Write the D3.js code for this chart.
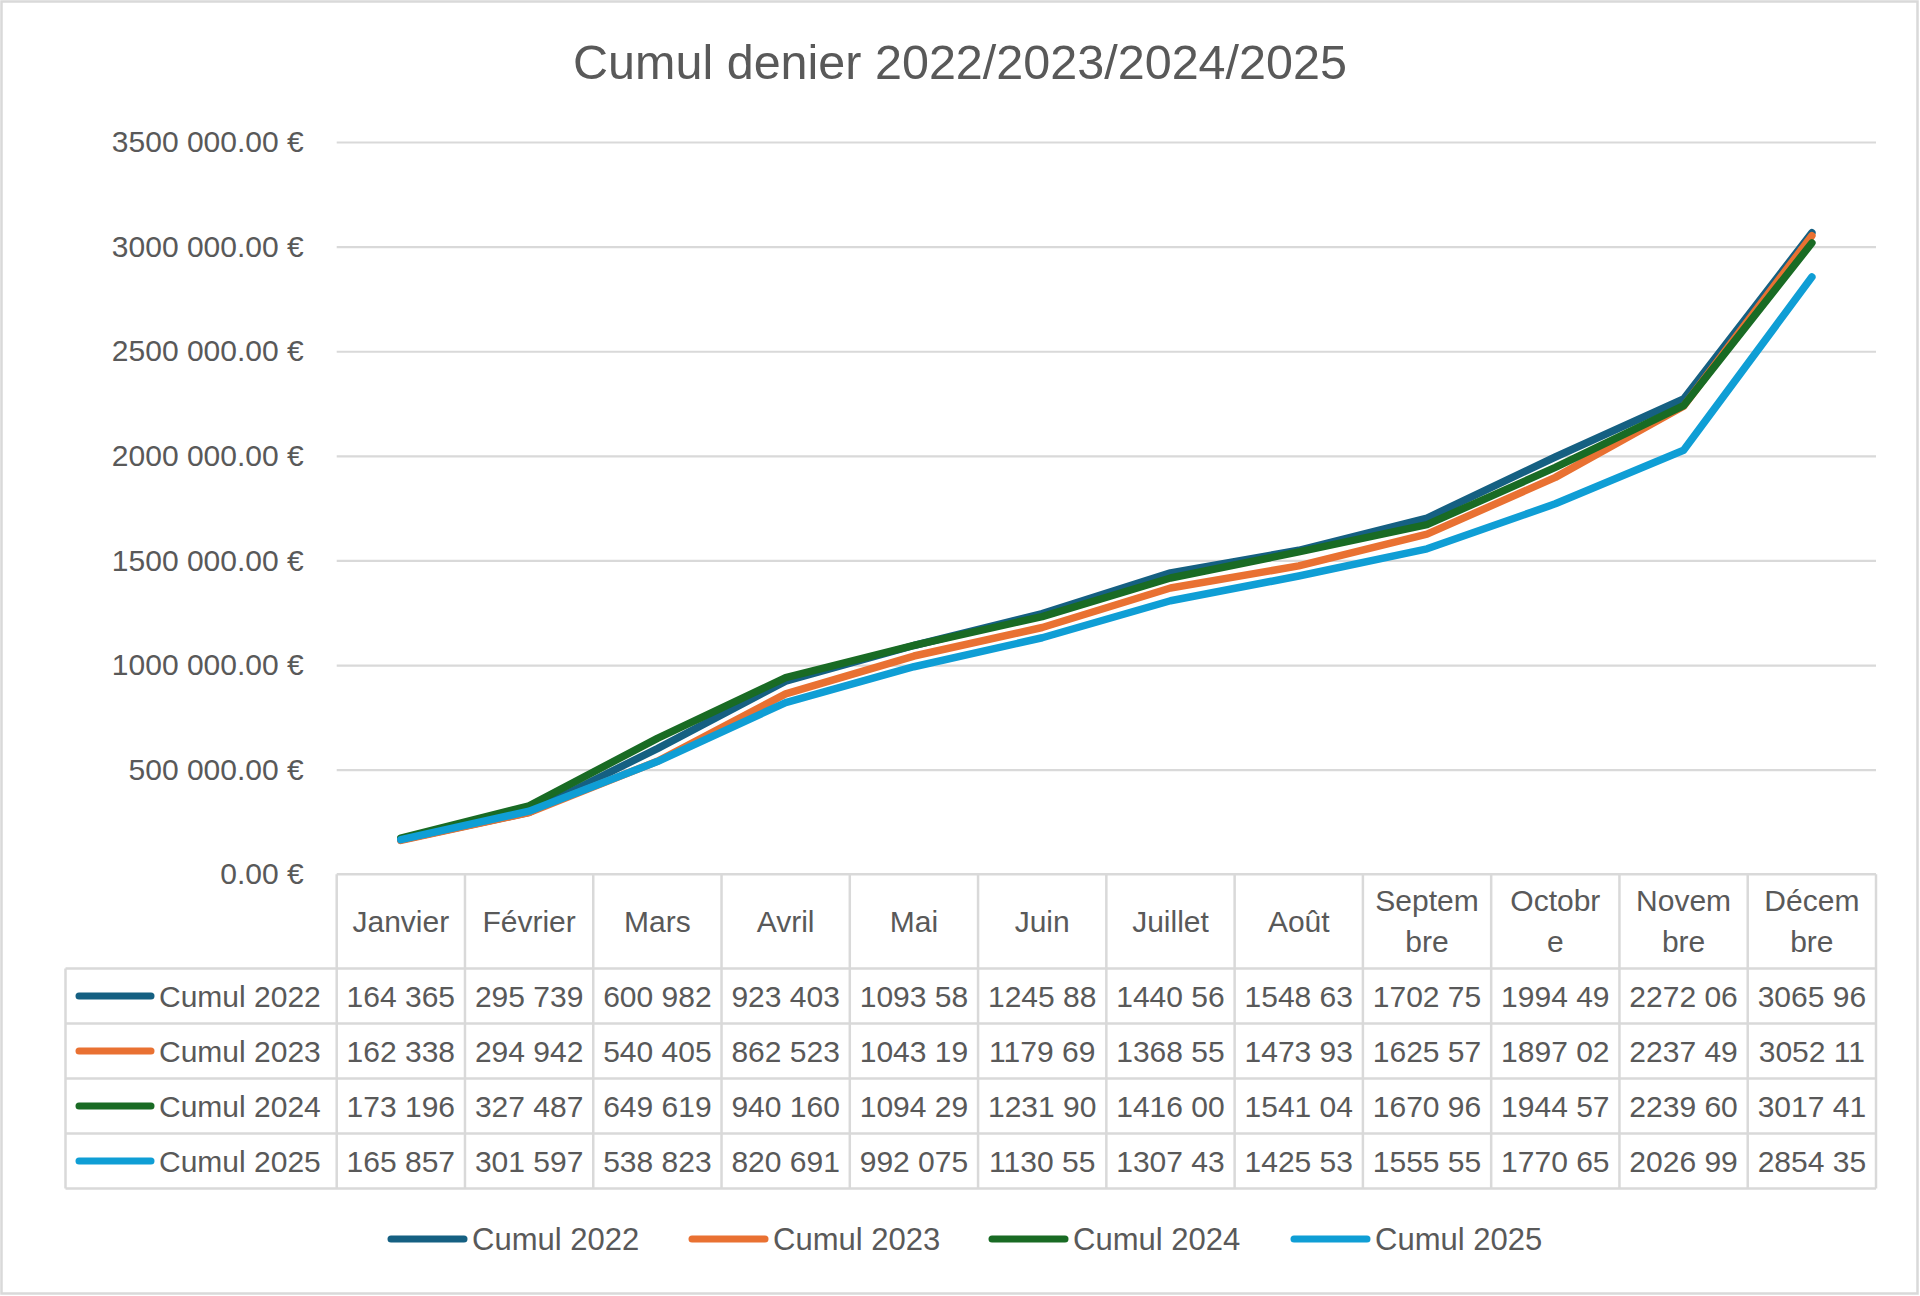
<!DOCTYPE html>
<html><head><meta charset="utf-8">
<script src="https://cdn.jsdelivr.net/npm/d3@7"></script>
<style>
html,body{margin:0;padding:0;background:#fff;}
svg text{font-family:"Liberation Sans",Arial,sans-serif;fill:#595959;}
</style></head>
<body>
<svg id="chart" width="1920" height="1296"></svg>
<script>
const title = "Cumul denier 2022/2023/2024/2025";
const months = ["Janvier","Février","Mars","Avril","Mai","Juin","Juillet","Août","Septembre","Octobre","Novembre","Décembre"];
const seriesNames = ["Cumul 2022","Cumul 2023","Cumul 2024","Cumul 2025"];
const colors = ["#156082","#E97132","#196B24","#0F9ED5"];
const cumul2022 = [164365,295739,600982,923403,1093580,1245880,1440560,1548630,1702750,1994490,2272060,3065960];
const cumul2023 = [162338,294942,540405,862523,1043190,1179690,1368550,1473930,1625570,1897020,2237490,3052110];
const cumul2024 = [173196,327487,649619,940160,1094290,1231900,1416000,1541040,1670960,1944570,2239600,3017410];
const cumul2025 = [165857,301597,538823,820691,992075,1130550,1307430,1425530,1555550,1770650,2026990,2854350];
const yTicks = [0,500000,1000000,1500000,2000000,2500000,3000000,3500000];

const series = [cumul2022,cumul2023,cumul2024,cumul2025];
const svg = d3.select("#chart");
const W = 1920, H = 1296;
const grid = "#d9d9d9";

// chart border
svg.append("rect").attr("x",1.5).attr("y",1.5).attr("width",W-4).attr("height",H-4)
  .attr("fill","#fff").attr("stroke",grid).attr("stroke-width",2.5);

// title
svg.append("text").attr("x",960).attr("y",62).attr("text-anchor","middle")
  .attr("dominant-baseline","central").style("font-size","48.5px").text(title);

const plotL = 336.7, plotR = 1876, yTop = 142, yBot = 874.3;
const x = d3.scaleBand().domain(months).range([plotL,plotR]).padding(0);
const y = d3.scaleLinear().domain([0,3500000]).range([yBot,yTop]);
const xc = m => x(m) + x.bandwidth()/2;

function fmtY(v){
  if (v === 0) return "0.00 €";
  return Math.floor(v/1000) + " " + String(v%1000).padStart(3,"0") + ".00 €";
}
function fmtN(v){
  if (v < 1000) return String(v);
  return Math.floor(v/1000) + " " + String(v%1000).padStart(3,"0");
}

// y gridlines & labels
const yAxis = d3.axisLeft(y).tickValues(yTicks).tickSize(-(plotR-plotL)).tickFormat(fmtY).tickPadding(33);
const ga = svg.append("g").attr("transform",`translate(${plotL},0)`).call(yAxis);
ga.select(".domain").remove();
ga.selectAll(".tick line").attr("stroke",grid).attr("stroke-width",2.2);
ga.selectAll(".tick").filter(d=>d===0).select("line").remove();
ga.selectAll(".tick text").attr("fill","#595959").style("font-size","30px")
  .style("font-family","'Liberation Sans',Arial,sans-serif");

// data table
const rowTop = [874.3, 968.5, 1023.5, 1078.5, 1133.5, 1188.5];
const tableL = 65.5;
const tg = svg.append("g");
const line = (x1,y1,x2,y2)=>tg.append("line").attr("x1",x1).attr("y1",y1).attr("x2",x2).attr("y2",y2)
  .attr("stroke",grid).attr("stroke-width",2.5);
line(plotL, rowTop[0], plotR, rowTop[0]);
for (let i=1;i<rowTop.length;i++) line(tableL,rowTop[i],plotR,rowTop[i]);
line(tableL,rowTop[1],tableL,rowTop[5]);
months.forEach(m=>line(x(m),rowTop[0],x(m),rowTop[5]));
line(plotR,rowTop[0],plotR,rowTop[5]);

// header labels with character wrapping
const maxW = 105;
months.forEach(m=>{
  const t = tg.append("text").attr("text-anchor","middle").style("font-size","30px");
  const lines = [];
  let cur = "";
  const probe = tg.append("text").style("font-size","30px");
  for (const ch of m){
    probe.text(cur+ch);
    if (probe.node().getComputedTextLength() > maxW && cur){ lines.push(cur); cur = ch; }
    else cur += ch;
  }
  lines.push(cur);
  probe.remove();
  const cy = (rowTop[0]+rowTop[1])/2;
  const lh = 41;
  lines.forEach((l,i)=>{
    t.append("tspan").attr("x",xc(m)).attr("y",cy + (i-(lines.length-1)/2)*lh)
      .attr("dominant-baseline","central").text(l);
  });
});

// data rows
series.forEach((vals,si)=>{
  const cy = (rowTop[si+1]+rowTop[si+2])/2;
  tg.append("line").attr("x1",79).attr("x2",151).attr("y1",cy).attr("y2",cy)
    .attr("stroke",colors[si]).attr("stroke-width",7).attr("stroke-linecap","round");
  tg.append("text").attr("x",159).attr("y",cy).attr("dominant-baseline","central")
    .style("font-size","30px").text(seriesNames[si]);
  vals.forEach((v,i)=>{
    const t = tg.append("text").attr("x",xc(months[i])).attr("y",cy).attr("text-anchor","middle")
      .attr("dominant-baseline","central").style("font-size","30px");
    let s = fmtN(v);
    t.text(s);
    while (t.node().getComputedTextLength() > x.bandwidth()-8 && s.length>1){ s = s.slice(0,-1); t.text(s); }
  });
});

// lines
const lineGen = d3.line().x((d,i)=>xc(months[i])).y(d=>y(d));
series.forEach((vals,si)=>{
  svg.append("path").datum(vals).attr("d",lineGen).attr("fill","none")
    .attr("stroke",colors[si]).attr("stroke-width",7.5)
    .attr("stroke-linecap","round").attr("stroke-linejoin","round");
});

// legend
const legX = [388, 689, 989, 1291];
const legY = 1239;
seriesNames.forEach((n,si)=>{
  const g = svg.append("g");
  g.append("line").attr("x1",legX[si]+3).attr("x2",legX[si]+76).attr("y1",legY).attr("y2",legY)
    .attr("stroke",colors[si]).attr("stroke-width",7).attr("stroke-linecap","round");
  g.append("text").attr("x",legX[si]+84).attr("y",legY).attr("dominant-baseline","central")
    .style("font-size","31px").text(n);
});
</script>
</body></html>
